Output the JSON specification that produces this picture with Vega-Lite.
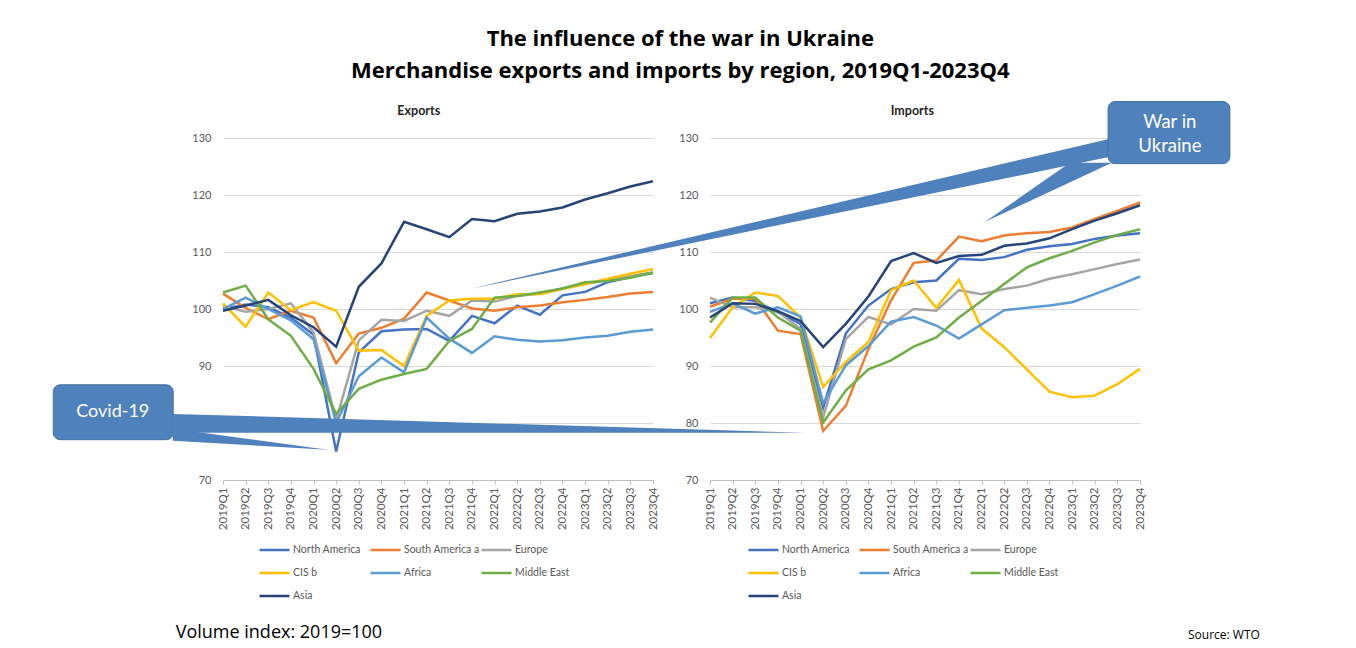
{
  "$schema": "https://vega.github.io/schema/vega-lite/v6.json",
  "padding": {"left": 52, "top": 28, "right": 20, "bottom": 4},
  "bounds": "flush",
  "spacing": 57,
  "background": "white",
  "title": {
    "text": ["The influence of the war in Ukraine", "Merchandise exports and imports by region, 2019Q1-2023Q4"],
    "font": "Open Sans", "fontSize": 22, "fontWeight": "bold", "color": "#000000",
    "anchor": "middle", "offset": 18, "lineHeight": 32, "dx": 24
  },
  "datasets": {
    "exp": [
      {"t": 0, "North America": 100.0, "South America a": 102.7, "Europe": 100.5, "CIS b": 101.0, "Africa": 100.0, "Middle East": 102.9, "Asia": 99.7},
      {"t": 1, "North America": 100.8, "South America a": 100.2, "Europe": 99.5, "CIS b": 96.9, "Africa": 102.0, "Middle East": 104.1, "Asia": 100.6},
      {"t": 2, "North America": 100.3, "South America a": 98.2, "Europe": 100.0, "CIS b": 102.9, "Africa": 100.0, "Middle East": 98.2, "Asia": 101.6},
      {"t": 3, "North America": 98.5, "South America a": 99.7, "Europe": 101.0, "CIS b": 99.8, "Africa": 98.0, "Middle East": 95.3, "Asia": 98.9},
      {"t": 4, "North America": 95.5, "South America a": 98.5, "Europe": 95.9, "CIS b": 101.2, "Africa": 94.7, "Middle East": 89.5, "Asia": 96.8},
      {"t": 5, "North America": 75.0, "South America a": 90.5, "Europe": 80.5, "CIS b": 99.7, "Africa": 80.0, "Middle East": 81.6, "Asia": 93.4},
      {"t": 6, "North America": 92.4, "South America a": 95.7, "Europe": 94.5, "CIS b": 92.7, "Africa": 88.2, "Middle East": 86.0, "Asia": 103.9},
      {"t": 7, "North America": 96.1, "South America a": 96.7, "Europe": 98.1, "CIS b": 92.8, "Africa": 91.5, "Middle East": 87.6, "Asia": 108.0},
      {"t": 8, "North America": 96.4, "South America a": 98.3, "Europe": 97.9, "CIS b": 90.0, "Africa": 88.9, "Middle East": 88.6, "Asia": 115.3},
      {"t": 9, "North America": 96.5, "South America a": 102.9, "Europe": 99.7, "CIS b": 98.8, "Africa": 98.5, "Middle East": 89.5, "Asia": 114.0},
      {"t": 10, "North America": 94.4, "South America a": 101.5, "Europe": 98.8, "CIS b": 101.5, "Africa": 94.8, "Middle East": 94.4, "Asia": 112.6},
      {"t": 11, "North America": 98.8, "South America a": 100.1, "Europe": 101.5, "CIS b": 101.8, "Africa": 92.3, "Middle East": 96.5, "Asia": 115.8},
      {"t": 12, "North America": 97.5, "South America a": 99.7, "Europe": 101.3, "CIS b": 101.8, "Africa": 95.2, "Middle East": 102.0, "Asia": 115.4},
      {"t": 13, "North America": 100.6, "South America a": 100.3, "Europe": 102.3, "CIS b": 102.6, "Africa": 94.6, "Middle East": 102.3, "Asia": 116.7},
      {"t": 14, "North America": 99.0, "South America a": 100.6, "Europe": 102.7, "CIS b": 102.6, "Africa": 94.3, "Middle East": 102.9, "Asia": 117.1},
      {"t": 15, "North America": 102.4, "South America a": 101.2, "Europe": 103.6, "CIS b": 103.5, "Africa": 94.5, "Middle East": 103.6, "Asia": 117.8},
      {"t": 16, "North America": 103.0, "South America a": 101.6, "Europe": 104.4, "CIS b": 104.4, "Africa": 95.0, "Middle East": 104.7, "Asia": 119.2},
      {"t": 17, "North America": 104.7, "South America a": 102.1, "Europe": 105.1, "CIS b": 105.3, "Africa": 95.3, "Middle East": 104.9, "Asia": 120.3},
      {"t": 18, "North America": 105.6, "South America a": 102.7, "Europe": 105.8, "CIS b": 106.2, "Africa": 96.0, "Middle East": 105.5, "Asia": 121.5},
      {"t": 19, "North America": 106.3, "South America a": 103.0, "Europe": 106.4, "CIS b": 107.0, "Africa": 96.4, "Middle East": 106.4, "Asia": 122.4}
    ],
    "imp": [
      {"t": 0, "North America": 101.0, "South America a": 100.4, "Europe": 102.0, "CIS b": 94.9, "Africa": 99.5, "Middle East": 97.6, "Asia": 98.5},
      {"t": 1, "North America": 102.0, "South America a": 101.8, "Europe": 100.3, "CIS b": 100.3, "Africa": 101.0, "Middle East": 102.0, "Asia": 101.0},
      {"t": 2, "North America": 101.4, "South America a": 101.8, "Europe": 100.3, "CIS b": 102.9, "Africa": 99.2, "Middle East": 102.0, "Asia": 100.9},
      {"t": 3, "North America": 99.4, "South America a": 96.2, "Europe": 99.5, "CIS b": 102.3, "Africa": 100.3, "Middle East": 98.5, "Asia": 99.6},
      {"t": 4, "North America": 97.4, "South America a": 95.6, "Europe": 96.5, "CIS b": 98.5, "Africa": 98.7, "Middle East": 96.2, "Asia": 97.9},
      {"t": 5, "North America": 82.7, "South America a": 78.6, "Europe": 81.0, "CIS b": 86.3, "Africa": 83.5, "Middle East": 80.1, "Asia": 93.3},
      {"t": 6, "North America": 95.7, "South America a": 83.0, "Europe": 94.7, "CIS b": 90.7, "Africa": 90.1, "Middle East": 85.7, "Asia": 97.4},
      {"t": 7, "North America": 100.6, "South America a": 93.0, "Europe": 98.6, "CIS b": 94.2, "Africa": 93.5, "Middle East": 89.4, "Asia": 102.2},
      {"t": 8, "North America": 103.5, "South America a": 101.5, "Europe": 97.3, "CIS b": 103.3, "Africa": 97.8, "Middle East": 91.0, "Asia": 108.4},
      {"t": 9, "North America": 104.7, "South America a": 108.1, "Europe": 100.0, "CIS b": 105.0, "Africa": 98.6, "Middle East": 93.4, "Asia": 109.8},
      {"t": 10, "North America": 105.0, "South America a": 108.5, "Europe": 99.7, "CIS b": 100.2, "Africa": 97.1, "Middle East": 95.0, "Asia": 108.1},
      {"t": 11, "North America": 108.8, "South America a": 112.7, "Europe": 103.3, "CIS b": 105.1, "Africa": 94.8, "Middle East": 98.5, "Asia": 109.3},
      {"t": 12, "North America": 108.6, "South America a": 111.9, "Europe": 102.6, "CIS b": 96.6, "Africa": 97.3, "Middle East": 101.4, "Asia": 109.5},
      {"t": 13, "North America": 109.1, "South America a": 112.9, "Europe": 103.5, "CIS b": 93.3, "Africa": 99.8, "Middle East": 104.4, "Asia": 111.1},
      {"t": 14, "North America": 110.4, "South America a": 113.3, "Europe": 104.1, "CIS b": 89.4, "Africa": 100.2, "Middle East": 107.3, "Asia": 111.5},
      {"t": 15, "North America": 111.0, "South America a": 113.5, "Europe": 105.3, "CIS b": 85.5, "Africa": 100.6, "Middle East": 108.9, "Asia": 112.4},
      {"t": 16, "North America": 111.4, "South America a": 114.3, "Europe": 106.1, "CIS b": 84.5, "Africa": 101.2, "Middle East": 110.2, "Asia": 114.0},
      {"t": 17, "North America": 112.3, "South America a": 115.8, "Europe": 107.0, "CIS b": 84.8, "Africa": 102.6, "Middle East": 111.7, "Asia": 115.5},
      {"t": 18, "North America": 112.9, "South America a": 117.2, "Europe": 107.9, "CIS b": 86.8, "Africa": 104.1, "Middle East": 113.0, "Asia": 116.8},
      {"t": 19, "North America": 113.3, "South America a": 118.7, "Europe": 108.7, "CIS b": 89.5, "Africa": 105.7, "Middle East": 114.0, "Asia": 118.2}
    ],
    "expWedges": [
      {"id": "c1", "x": -2.22, "y": 81.6, "y2": 78.3},
      {"id": "c1", "x": 25.75, "y": 78.3, "y2": 78.3},
      {"id": "c2", "x": -2.22, "y": 79.0, "y2": 76.9},
      {"id": "c2", "x": 4.63, "y": 75.3, "y2": 75.3}
    ],
    "expBox": [{"x": -7.5, "x2": -2.2, "y": 86.7, "y2": 77.07, "label": "Covid-19", "cx": -4.87, "cy": 82.0}],
    "expText": [
      {"x": -2.09, "y": 43.2, "label": "Volume index: 2019=100", "kind": "note"},
      {"x": 8.65, "y": 134.8, "label": "Exports", "kind": "panel"}
    ],
    "impWedgeA": [
      {"x": 17.68, "y": 129.88, "y2": 126.72},
      {"x": -10.56, "y": 103.56, "y2": 103.56}
    ],
    "impWedgeB": [
      {"y": 125.65, "x": 15.9, "x2": 17.76},
      {"y": 115.3, "x": 12.16, "x2": 12.16}
    ],
    "impBox": [{"x": 17.59, "x2": 22.97, "y": 136.4, "y2": 125.5, "label": "War in\nUkraine", "cx": 20.32, "cy": 132.86}],
    "impText": [
      {"x": 21.12, "y": 42.86, "label": "Source: WTO", "kind": "note"},
      {"x": 8.94, "y": 134.8, "label": "Imports", "kind": "panel"}
    ]
  },
  "hconcat": [
    {
      "width": 430, "height": 342,
      "layer": [
        {
          "data": {"name": "exp"},
          "transform": [{"fold": ["North America", "South America a", "Europe", "CIS b", "Africa", "Middle East", "Asia"], "as": ["region", "value"]}],
          "mark": {"type": "line", "strokeWidth": 2.5},
          "encoding": {
            "x": {"field": "t", "type": "quantitative", "scale": {"domain": [0, 19], "nice": false, "zero": false},
              "axis": {"values": [0,1,2,3,4,5,6,7,8,9,10,11,12,13,14,15,16,17,18,19], "tickCount": 20, "labelExpr": "(2019 + floor(datum.value / 4)) + 'Q' + (datum.value % 4 + 1)", "labelAngle": -90, "grid": false, "title": null, "domainColor": "#bfbfbf", "tickColor": "#bfbfbf", "tickSize": 4, "labelPadding": 3, "labelFont": "Lato", "labelFontSize": 11.5, "labelColor": "#595959", "labelBound": false, "labelFlush": false, "labelOverlap": false}},
            "y": {"field": "value", "type": "quantitative", "scale": {"domain": [70, 130], "nice": false, "zero": false},
              "axis": {"values": [70, 80, 90, 100, 110, 120, 130], "grid": true, "gridColor": "#d9d9d9", "domain": false, "ticks": false, "labelPadding": 12, "title": null, "labelFont": "Lato", "labelFontSize": 11, "labelColor": "#595959"}},
            "color": {"field": "region", "type": "nominal", "sort": null,
              "scale": {"domain": ["North America", "South America a", "Europe", "CIS b", "Africa", "Middle East", "Asia"], "range": ["#4472C4", "#ED7D31", "#A5A5A5", "#FFC000", "#5B9BD5", "#70AD47", "#264478"]},
              "legend": {"orient": "none", "legendX": 35, "legendY": 404, "direction": "horizontal", "columns": 3, "title": null, "symbolType": "stroke", "symbolSize": 900, "symbolStrokeWidth": 2.5, "labelFont": "Lato", "labelFontSize": 10.5, "labelColor": "#595959", "labelOffset": 2, "columnPadding": 0, "rowPadding": 7, "clipHeight": 16, "gridAlign": "all", "padding": 0}}
          }
        },
        {
          "data": {"name": "expBox"},
          "mark": {"type": "rect", "fill": "#4F81BD", "stroke": "#41719C", "strokeWidth": 1, "cornerRadius": 7},
          "encoding": {
            "x": {"field": "x", "type": "quantitative", "scale": {"domain": [0, 19], "nice": false, "zero": false}},
            "x2": {"field": "x2"},
            "y": {"field": "y", "type": "quantitative", "scale": {"domain": [70, 130], "nice": false, "zero": false}},
            "y2": {"field": "y2"}
          }
        },
        {
          "data": {"name": "expWedges"},
          "mark": {"type": "area", "color": "#4F81BD", "orient": "vertical"},
          "encoding": {
            "x": {"field": "x", "type": "quantitative", "scale": {"domain": [0, 19], "nice": false, "zero": false}},
            "y": {"field": "y", "type": "quantitative", "scale": {"domain": [70, 130], "nice": false, "zero": false}},
            "y2": {"field": "y2"},
            "detail": {"field": "id"}
          }
        },
        {
          "data": {"name": "expBox"},
          "mark": {"type": "text", "color": "white", "font": "Lato", "fontSize": 18, "align": "center", "baseline": "middle"},
          "encoding": {
            "x": {"field": "cx", "type": "quantitative", "scale": {"domain": [0, 19], "nice": false, "zero": false}},
            "y": {"field": "cy", "type": "quantitative", "scale": {"domain": [70, 130], "nice": false, "zero": false}},
            "text": {"field": "label"}
          }
        },
        {
          "data": {"name": "expText"},
          "transform": [{"filter": "datum.kind === 'note'"}],
          "mark": {"type": "text", "color": "#000000", "font": "Open Sans", "fontSize": 18, "align": "left", "baseline": "middle"},
          "encoding": {
            "x": {"field": "x", "type": "quantitative", "scale": {"domain": [0, 19], "nice": false, "zero": false}},
            "y": {"field": "y", "type": "quantitative", "scale": {"domain": [70, 130], "nice": false, "zero": false}},
            "text": {"field": "label"}
          }
        },
        {
          "data": {"name": "expText"},
          "transform": [{"filter": "datum.kind === 'panel'"}],
          "mark": {"type": "text", "color": "#262626", "font": "Lato", "fontSize": 12.5, "fontWeight": "bold", "align": "center", "baseline": "middle"},
          "encoding": {
            "x": {"field": "x", "type": "quantitative", "scale": {"domain": [0, 19], "nice": false, "zero": false}},
            "y": {"field": "y", "type": "quantitative", "scale": {"domain": [70, 130], "nice": false, "zero": false}},
            "text": {"field": "label"}
          }
        }
      ]
    },
    {
      "width": 430, "height": 342,
      "layer": [
        {
          "data": {"name": "imp"},
          "transform": [{"fold": ["North America", "South America a", "Europe", "CIS b", "Africa", "Middle East", "Asia"], "as": ["region", "value"]}],
          "mark": {"type": "line", "strokeWidth": 2.5},
          "encoding": {
            "x": {"field": "t", "type": "quantitative", "scale": {"domain": [0, 19], "nice": false, "zero": false},
              "axis": {"values": [0,1,2,3,4,5,6,7,8,9,10,11,12,13,14,15,16,17,18,19], "tickCount": 20, "labelExpr": "(2019 + floor(datum.value / 4)) + 'Q' + (datum.value % 4 + 1)", "labelAngle": -90, "grid": false, "title": null, "domainColor": "#bfbfbf", "tickColor": "#bfbfbf", "tickSize": 4, "labelPadding": 3, "labelFont": "Lato", "labelFontSize": 11.5, "labelColor": "#595959", "labelBound": false, "labelFlush": false, "labelOverlap": false}},
            "y": {"field": "value", "type": "quantitative", "scale": {"domain": [70, 130], "nice": false, "zero": false},
              "axis": {"values": [70, 80, 90, 100, 110, 120, 130], "grid": true, "gridColor": "#d9d9d9", "domain": false, "ticks": false, "labelPadding": 12, "title": null, "labelFont": "Lato", "labelFontSize": 11, "labelColor": "#595959"}},
            "color": {"field": "region", "type": "nominal", "sort": null,
              "scale": {"domain": ["North America", "South America a", "Europe", "CIS b", "Africa", "Middle East", "Asia"], "range": ["#4472C4", "#ED7D31", "#A5A5A5", "#FFC000", "#5B9BD5", "#70AD47", "#264478"]},
              "legend": {"orient": "none", "legendX": 37, "legendY": 404, "direction": "horizontal", "columns": 3, "title": null, "symbolType": "stroke", "symbolSize": 900, "symbolStrokeWidth": 2.5, "labelFont": "Lato", "labelFontSize": 10.5, "labelColor": "#595959", "labelOffset": 2, "columnPadding": 0, "rowPadding": 7, "clipHeight": 16, "gridAlign": "all", "padding": 0}}
          }
        },
        {
          "data": {"name": "impWedgeA"},
          "mark": {"type": "area", "color": "#4F81BD", "orient": "vertical"},
          "encoding": {
            "x": {"field": "x", "type": "quantitative", "scale": {"domain": [0, 19], "nice": false, "zero": false}},
            "y": {"field": "y", "type": "quantitative", "scale": {"domain": [70, 130], "nice": false, "zero": false}},
            "y2": {"field": "y2"}
          }
        },
        {
          "data": {"name": "impWedgeB"},
          "mark": {"type": "area", "color": "#4F81BD", "orient": "horizontal"},
          "encoding": {
            "y": {"field": "y", "type": "quantitative", "scale": {"domain": [70, 130], "nice": false, "zero": false}},
            "x": {"field": "x", "type": "quantitative", "scale": {"domain": [0, 19], "nice": false, "zero": false}},
            "x2": {"field": "x2"}
          }
        },
        {
          "data": {"name": "impBox"},
          "mark": {"type": "rect", "fill": "#4F81BD", "stroke": "#41719C", "strokeWidth": 1, "cornerRadius": 7},
          "encoding": {
            "x": {"field": "x", "type": "quantitative", "scale": {"domain": [0, 19], "nice": false, "zero": false}},
            "x2": {"field": "x2"},
            "y": {"field": "y", "type": "quantitative", "scale": {"domain": [70, 130], "nice": false, "zero": false}},
            "y2": {"field": "y2"}
          }
        },
        {
          "data": {"name": "impBox"},
          "mark": {"type": "text", "color": "white", "font": "Lato", "fontSize": 18.5, "align": "center", "baseline": "middle", "lineBreak": "\n", "lineHeight": 24},
          "encoding": {
            "x": {"field": "cx", "type": "quantitative", "scale": {"domain": [0, 19], "nice": false, "zero": false}},
            "y": {"field": "cy", "type": "quantitative", "scale": {"domain": [70, 130], "nice": false, "zero": false}},
            "text": {"field": "label"}
          }
        },
        {
          "data": {"name": "impText"},
          "transform": [{"filter": "datum.kind === 'note'"}],
          "mark": {"type": "text", "color": "#000000", "font": "Open Sans", "fontSize": 12, "align": "left", "baseline": "middle"},
          "encoding": {
            "x": {"field": "x", "type": "quantitative", "scale": {"domain": [0, 19], "nice": false, "zero": false}},
            "y": {"field": "y", "type": "quantitative", "scale": {"domain": [70, 130], "nice": false, "zero": false}},
            "text": {"field": "label"}
          }
        },
        {
          "data": {"name": "impText"},
          "transform": [{"filter": "datum.kind === 'panel'"}],
          "mark": {"type": "text", "color": "#262626", "font": "Lato", "fontSize": 12.5, "fontWeight": "bold", "align": "center", "baseline": "middle"},
          "encoding": {
            "x": {"field": "x", "type": "quantitative", "scale": {"domain": [0, 19], "nice": false, "zero": false}},
            "y": {"field": "y", "type": "quantitative", "scale": {"domain": [70, 130], "nice": false, "zero": false}},
            "text": {"field": "label"}
          }
        }
      ]
    }
  ],
  "resolve": {"scale": {"color": "independent", "x": "independent", "y": "independent"}, "legend": {"color": "independent"}},
  "config": {"view": {"stroke": null}, "font": "Lato", "axis": {"labelOverlap": false}}
}
